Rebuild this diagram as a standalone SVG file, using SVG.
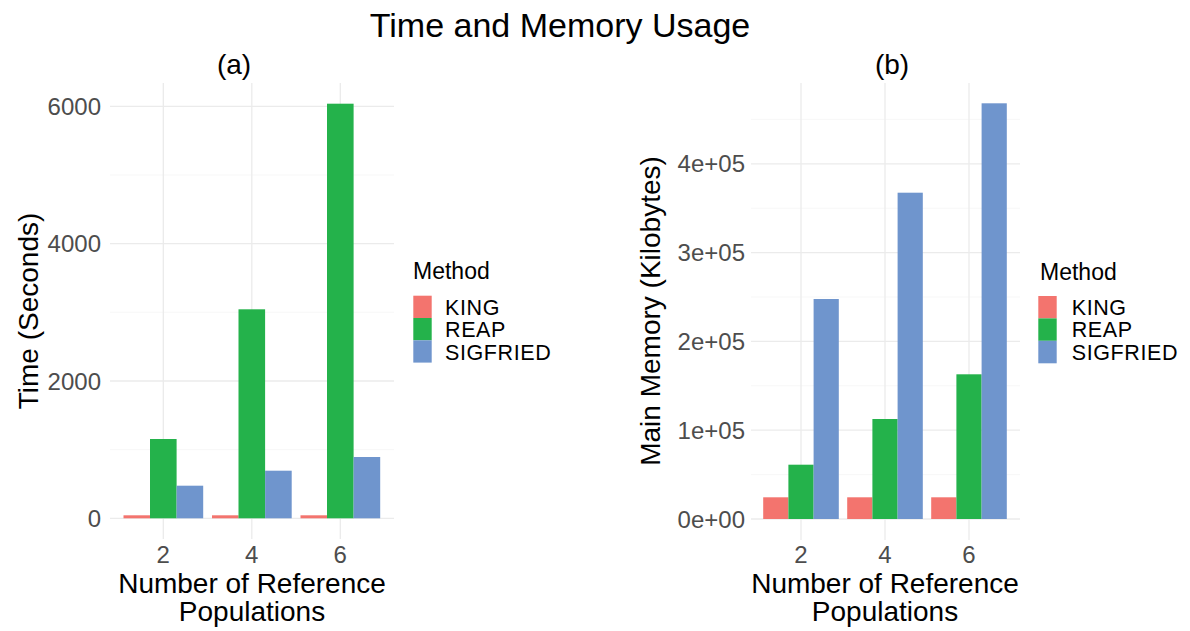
<svg xmlns="http://www.w3.org/2000/svg" width="1190" height="631" viewBox="0 0 1190 631">
  <style>
    text { font-family: "Liberation Sans", Arial, sans-serif; }
    .title { font-size: 34px; fill: #000; text-anchor: middle; }
    .sub { font-size: 28px; fill: #000; text-anchor: middle; }
    .axt { font-size: 28px; fill: #000; text-anchor: middle; }
    .tick { font-size: 24px; fill: #4d4d4d; }
    .ty { text-anchor: end; }
    .tx { text-anchor: middle; }
    .lgt { font-size: 23px; fill: #000; }
    .lgl { font-size: 21.5px; fill: #000; letter-spacing: 0.6px; }
    .major { stroke: #ebebeb; stroke-width: 1.3; fill: none; }
    .minor { stroke: #f3f3f3; stroke-width: 0.7; fill: none; }
    .king { fill: #F3746E; }
    .reap { fill: #24B24B; }
    .sig { fill: #6F95CD; }
  </style>
  <rect width="1190" height="631" fill="#ffffff"/>

  <text class="title" x="560" y="37">Time and Memory Usage</text>

  <!-- Panel (a): run time -->
  <g id="panel-a">
    <text class="sub" x="234" y="74">(a)</text>
    <g id="grid-a">
      <path class="minor" d="M110 449.6H394M110 312.3H394M110 175H394"/>
      <path class="major" d="M110 518.3H394M110 381H394M110 243.6H394M110 106.3H394"/>
      <path class="major" d="M163.3 83V539M251.8 83V539M340.3 83V539"/>
    </g>
    <g id="bars-a">
      <rect class="king" x="123.5" y="515.3" width="26.6" height="3"/>
      <rect class="reap" x="150" y="439" width="26.6" height="79.3"/>
      <rect class="sig" x="176.6" y="485.7" width="26.6" height="32.6"/>
      <rect class="king" x="212" y="515.3" width="26.6" height="3"/>
      <rect class="reap" x="238.5" y="309.3" width="26.6" height="209"/>
      <rect class="sig" x="265.1" y="470.7" width="26.6" height="47.6"/>
      <rect class="king" x="300.5" y="515.3" width="26.6" height="3"/>
      <rect class="reap" x="327" y="103.7" width="26.6" height="414.6"/>
      <rect class="sig" x="353.6" y="457" width="26.6" height="61.3"/>
    </g>
    <g id="axis-a">
      <text class="tick ty" x="101" y="526.8">0</text>
      <text class="tick ty" x="101" y="389.5">2000</text>
      <text class="tick ty" x="101" y="252.1">4000</text>
      <text class="tick ty" x="101" y="114.8">6000</text>
      <text class="tick tx" x="163.3" y="563">2</text>
      <text class="tick tx" x="251.8" y="563">4</text>
      <text class="tick tx" x="340.3" y="563">6</text>
      <text class="axt" x="252" y="593">Number of Reference</text>
      <text class="axt" x="252" y="621">Populations</text>
      <text class="axt" transform="translate(38 311) rotate(-90)">Time (Seconds)</text>
    </g>
    <g id="legend-a">
      <text class="lgt" x="413" y="279">Method</text>
      <rect class="king" x="413.3" y="295.7" width="18.4" height="22.3"/>
      <rect class="reap" x="413.3" y="318" width="18.4" height="22.3"/>
      <rect class="sig" x="413.3" y="340.3" width="18.4" height="22.3"/>
      <text class="lgl" x="445" y="315">KING</text>
      <text class="lgl" x="445" y="337">REAP</text>
      <text class="lgl" x="445" y="360">SIGFRIED</text>
    </g>
  </g>

  <!-- Panel (b): main memory -->
  <g id="panel-b">
    <text class="sub" x="892" y="74">(b)</text>
    <g id="grid-b">
      <path class="minor" d="M751 474.6H1020M751 385.8H1020M751 297H1020M751 208.2H1020M751 119.4H1020"/>
      <path class="major" d="M751 519H1020M751 430.2H1020M751 341.4H1020M751 252.6H1020M751 163.8H1020"/>
      <path class="major" d="M801 83V540M885 83V540M969 83V540"/>
    </g>
    <g id="bars-b">
      <rect class="king" x="763.2" y="497.3" width="25.2" height="21.7"/>
      <rect class="reap" x="788.4" y="464.7" width="25.2" height="54.3"/>
      <rect class="sig" x="813.6" y="299" width="25.2" height="220"/>
      <rect class="king" x="847.2" y="497.3" width="25.2" height="21.7"/>
      <rect class="reap" x="872.4" y="419" width="25.2" height="100"/>
      <rect class="sig" x="897.6" y="192.7" width="25.2" height="326.3"/>
      <rect class="king" x="931.2" y="497.3" width="25.2" height="21.7"/>
      <rect class="reap" x="956.4" y="374.3" width="25.2" height="144.7"/>
      <rect class="sig" x="981.6" y="103.3" width="25.2" height="415.7"/>
    </g>
    <g id="axis-b">
      <text class="tick ty" x="745" y="527.5">0e+00</text>
      <text class="tick ty" x="745" y="438.7">1e+05</text>
      <text class="tick ty" x="745" y="349.9">2e+05</text>
      <text class="tick ty" x="745" y="261.1">3e+05</text>
      <text class="tick ty" x="745" y="172.3">4e+05</text>
      <text class="tick tx" x="801" y="563">2</text>
      <text class="tick tx" x="885" y="563">4</text>
      <text class="tick tx" x="969" y="563">6</text>
      <text class="axt" x="885" y="593">Number of Reference</text>
      <text class="axt" x="885" y="621">Populations</text>
      <text class="axt" transform="translate(660 311) rotate(-90)">Main Memory (Kilobytes)</text>
    </g>
    <g id="legend-b">
      <text class="lgt" x="1040" y="280">Method</text>
      <rect class="king" x="1038.3" y="296" width="18.4" height="22.4"/>
      <rect class="reap" x="1038.3" y="318.4" width="18.4" height="22.4"/>
      <rect class="sig" x="1038.3" y="340.8" width="18.4" height="22.5"/>
      <text class="lgl" x="1071.7" y="315">KING</text>
      <text class="lgl" x="1071.7" y="337">REAP</text>
      <text class="lgl" x="1071.7" y="360">SIGFRIED</text>
    </g>
  </g>
</svg>
